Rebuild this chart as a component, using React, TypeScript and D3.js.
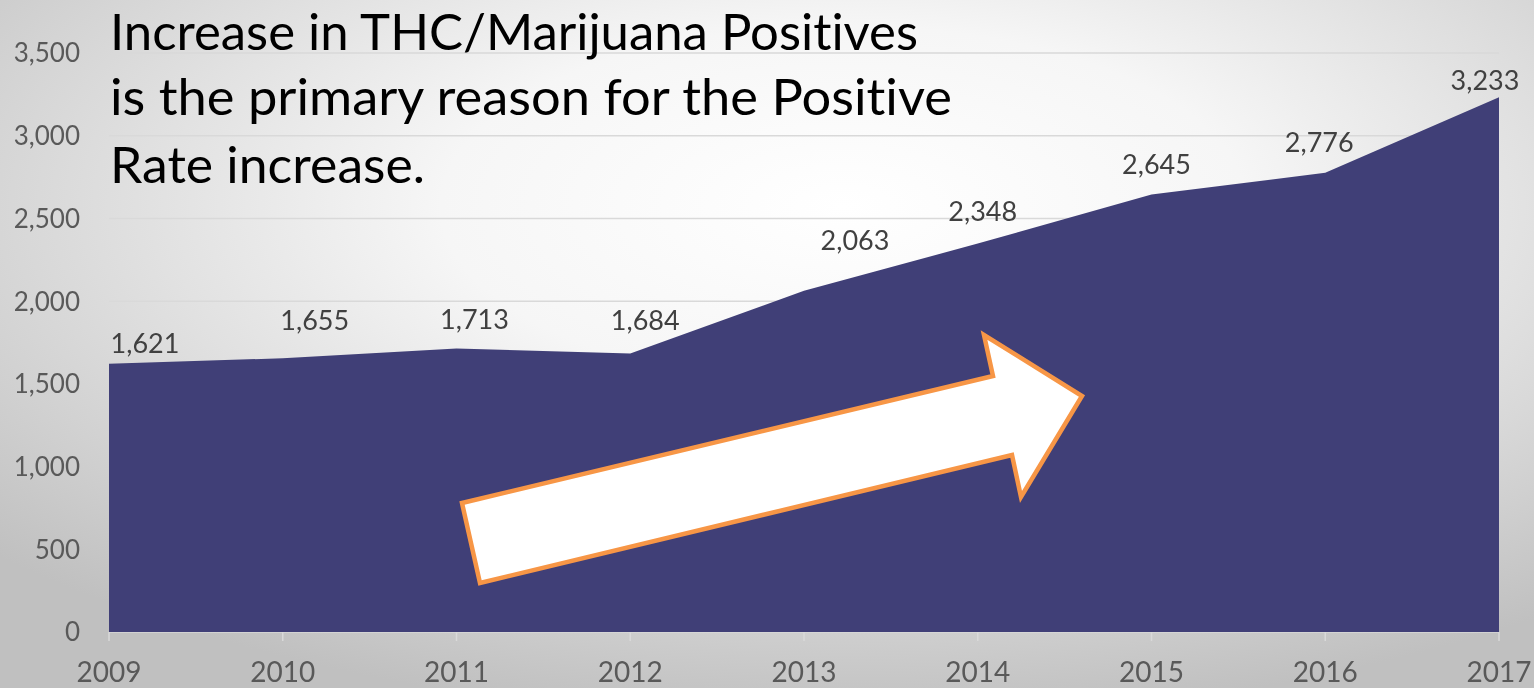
import React from "react";
import * as d3 from "d3";

const years = ["2009", "2010", "2011", "2012", "2013", "2014", "2015", "2016", "2017"];
const positives = [1621, 1655, 1713, 1684, 2063, 2348, 2645, 2776, 3233];
const yTicks = [0, 500, 1000, 1500, 2000, 2500, 3000, 3500];
const titleLines = [
  "Increase in THC/Marijuana Positives",
  "is the primary reason for the Positive",
  "Rate increase.",
];
// label nudges (layout only): [dx, dy] relative to each point
const labelNudges: [number, number][] = [
  [36, -21], [32, -38], [18, -29], [15, -33], [51, -50], [5, -32], [5, -30], [-6, -30], [-14, -17],
];

const W = 1534;
const H = 688;

export default function App() {
  const x = d3.scalePoint<string>().domain(years).range([109, 1499]);
  const y = d3.scaleLinear().domain([0, 3500]).range([632, 53]);
  const data = years.map((yr, i) => ({ yr, v: positives[i] }));
  const area = d3
    .area<{ yr: string; v: number }>()
    .x((d) => x(d.yr) as number)
    .y0(y(0))
    .y1((d) => y(d.v));

  // arrow annotation (decoration)
  const arrow: [number, number][] = [
    [480, 583],
    [462, 503],
    [993, 376],
    [984, 335],
    [1082, 396],
    [1021, 497],
    [1012, 455],
  ];

  const font = "Lato, 'Open Sans', sans-serif";
  const titleWidths = [808, 842, 315];
  const titleBaselines = [50, 115, 183];
  const noLig = { fontVariantLigatures: "none" as const, fontFeatureSettings: "'liga' 0, 'clig' 0" };

  return (
    <svg
      width={W}
      height={H}
      style={{ position: "fixed", left: 0, top: 0, display: "block" }}
    >
      <defs>
        <radialGradient id="bg" cx="0.55" cy="0.3" r="0.75" gradientUnits="objectBoundingBox">
          <stop offset="0" stopColor="#ffffff" />
          <stop offset="0.35" stopColor="#f6f6f6" />
          <stop offset="1" stopColor="#c0c0c0" />
        </radialGradient>
      </defs>
      <rect x={0} y={0} width={W} height={H} fill="url(#bg)" />

      {/* gridlines */}
      {yTicks.map((t) => (
        <line key={"g" + t} x1={109} x2={1499} y1={y(t)} y2={y(t)} stroke="#d9d9d9" strokeWidth={1.5} />
      ))}
      {/* x tick marks */}
      {years.map((yr) => (
        <line key={"t" + yr} x1={x(yr)} x2={x(yr)} y1={y(0)} y2={y(0) + 9} stroke="#d9d9d9" strokeWidth={1.5} />
      ))}

      <path d={area(data) || ""} fill="#403f77" />

      {/* y labels */}
      {yTicks.map((t) => (
        <text
          key={"yl" + t}
          x={80}
          y={y(t)}
          dy="0.36em"
          textAnchor="end"
          fontFamily={font}
          fontSize={26}
          fill="#595959"
        >
          {d3.format(",")(t)}
        </text>
      ))}
      {/* x labels */}
      {years.map((yr) => (
        <text
          key={"xl" + yr}
          x={x(yr)}
          y={682}
          textAnchor="middle"
          fontFamily={font}
          fontSize={28}
          fill="#595959"
        >
          {yr}
        </text>
      ))}

      {/* data labels */}
      {data.map((d, i) => (
        <text
          key={"dl" + d.yr}
          x={(x(d.yr) as number) + labelNudges[i][0]}
          y={y(d.v) + labelNudges[i][1]}
          dy="0.36em"
          textAnchor="middle"
          fontFamily={font}
          fontSize={27}
          fill="#404040"
        >
          {d3.format(",")(d.v)}
        </text>
      ))}

      {/* arrow */}
      <polygon
        points={arrow.map((p) => p.join(",")).join(" ")}
        fill="#ffffff"
        stroke="#f79646"
        strokeWidth={4.5}
        strokeLinejoin="miter"
      />

      {/* title */}
      {titleLines.map((line, i) => (
        <text
          key={"t" + i}
          x={110}
          y={titleBaselines[i]}
          fontFamily={font}
          fontSize={50}
          fill="#000000"
          textLength={titleWidths[i]}
          lengthAdjust="spacingAndGlyphs"
          style={noLig}
        >
          {line}
        </text>
      ))}
    </svg>
  );
}
